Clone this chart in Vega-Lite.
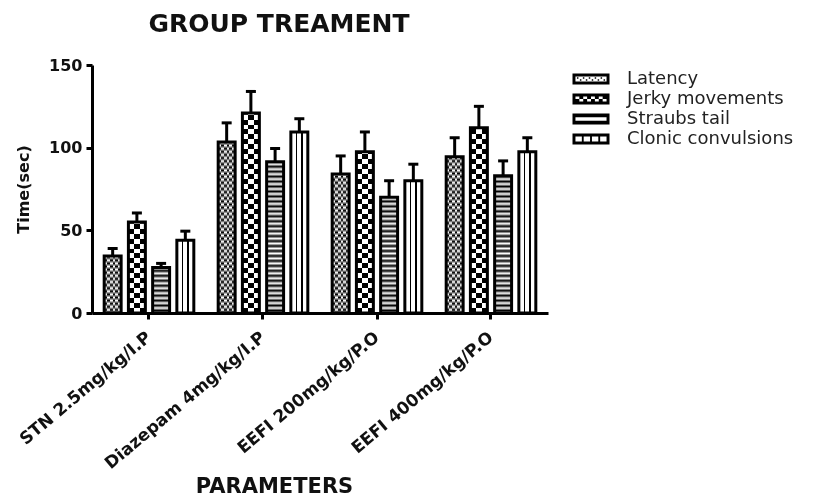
{
  "$schema": "https://vega.github.io/schema/vega-lite/v6.json",
  "width": 456,
  "height": 248,
  "autosize": {"type": "none"},
  "padding": {"left": 92, "top": 65, "right": 285, "bottom": 183},
  "background": "white",
  "title": {
    "text": "GROUP TREAMENT",
    "font": "DejaVu Sans",
    "fontSize": 25,
    "fontWeight": "bold",
    "color": "#111",
    "anchor": "middle",
    "frame": "group",
    "dx": -41,
    "offset": 20
  },
  "config": {
    "view": {"stroke": null},
    "axis": {
      "domainColor": "#000",
      "domainWidth": 3,
      "tickColor": "#000",
      "tickWidth": 3,
      "tickSize": 6,
      "labelFont": "DejaVu Sans",
      "labelFontSize": 16,
      "labelFontWeight": "bold",
      "labelColor": "#111",
      "labelLimit": 0,
      "titleFont": "DejaVu Sans",
      "titleFontWeight": "bold",
      "titleColor": "#111",
      "grid": false,
      "zindex": 1
    },
    "axisY": {
      "labelPadding": 4,
      "titleFontSize": 16,
      "titleX": -69,
      "titleY": 124,
      "titleAngle": -90,
      "titleAlign": "center",
      "titleBaseline": "middle"
    },
    "axisX": {
      "labelAngle": -40,
      "labelAlign": "right",
      "labelBaseline": "middle",
      "labelPadding": 16,
      "labelFontSize": 17,
      "titleFontSize": 21,
      "titleX": 182,
      "titleY": 179,
      "titleAlign": "center",
      "titleBaseline": "alphabetic"
    }
  },
  "data": {
    "values": [
      {"group": "STN 2.5mg/kg/I.P", "series": "Latency", "mean": 34.5, "upper": 39},
      {"group": "STN 2.5mg/kg/I.P", "series": "Jerky movements", "mean": 55, "upper": 60.5},
      {"group": "STN 2.5mg/kg/I.P", "series": "Straubs tail", "mean": 27.5, "upper": 30},
      {"group": "STN 2.5mg/kg/I.P", "series": "Clonic convulsions", "mean": 44, "upper": 49.5},
      {"group": "Diazepam 4mg/kg/I.P", "series": "Latency", "mean": 103.5, "upper": 115},
      {"group": "Diazepam 4mg/kg/I.P", "series": "Jerky movements", "mean": 121, "upper": 134},
      {"group": "Diazepam 4mg/kg/I.P", "series": "Straubs tail", "mean": 91.5, "upper": 99.5},
      {"group": "Diazepam 4mg/kg/I.P", "series": "Clonic convulsions", "mean": 109.5, "upper": 117.5},
      {"group": "EEFI 200mg/kg/P.O", "series": "Latency", "mean": 84, "upper": 95},
      {"group": "EEFI 200mg/kg/P.O", "series": "Jerky movements", "mean": 97.5, "upper": 109.5},
      {"group": "EEFI 200mg/kg/P.O", "series": "Straubs tail", "mean": 70, "upper": 80},
      {"group": "EEFI 200mg/kg/P.O", "series": "Clonic convulsions", "mean": 80, "upper": 90},
      {"group": "EEFI 400mg/kg/P.O", "series": "Latency", "mean": 94.5, "upper": 106},
      {"group": "EEFI 400mg/kg/P.O", "series": "Jerky movements", "mean": 112, "upper": 125},
      {"group": "EEFI 400mg/kg/P.O", "series": "Straubs tail", "mean": 83, "upper": 92},
      {"group": "EEFI 400mg/kg/P.O", "series": "Clonic convulsions", "mean": 97.5, "upper": 106}
    ]
  },
  "encoding": {
    "x": {
      "field": "group",
      "type": "nominal",
      "sort": null,
      "title": "PARAMETERS",
      "scale": {
        "domain": ["STN 2.5mg/kg/I.P", "Diazepam 4mg/kg/I.P", "EEFI 200mg/kg/P.O", "EEFI 400mg/kg/P.O"],
        "paddingInner": 0.15,
        "paddingOuter": 0.075
      }
    },
    "xOffset": {
      "field": "series",
      "type": "nominal",
      "sort": null,
      "scale": {
        "domain": ["Latency", "Jerky movements", "Straubs tail", "Clonic convulsions"],
        "paddingInner": 0.3,
        "paddingOuter": 0.15
      }
    }
  },
  "layer": [
    {
      "transform": [{"filter": "datum.series === 'Latency'"}],
      "mark": {"type": "bar", "fill": {"gradient": "linear", "x1": 0, "y1": 0, "x2": 1, "y2": 0, "stops": [
        {"offset": 0, "color": "#fff"}, {"offset": 0.167, "color": "#fff"},
        {"offset": 0.167, "color": "#000"}, {"offset": 0.333, "color": "#000"},
        {"offset": 0.333, "color": "#fff"}, {"offset": 0.5, "color": "#fff"},
        {"offset": 0.5, "color": "#000"}, {"offset": 0.667, "color": "#000"},
        {"offset": 0.667, "color": "#fff"}, {"offset": 0.833, "color": "#fff"},
        {"offset": 0.833, "color": "#000"}, {"offset": 1, "color": "#000"}
      ]}},
      "encoding": {
        "y": {"field": "mean", "type": "quantitative", "title": "Time(sec)", "scale": {"domain": [0, 150], "nice": false}, "axis": {"values": [0, 50, 100, 150]}}
      }
    },
    {
      "transform": [{"filter": "datum.series === 'Jerky movements'"}],
      "mark": {"type": "bar", "fill": {"gradient": "linear", "x1": 0, "y1": 0, "x2": 1, "y2": 0, "stops": [
        {"offset": 0, "color": "#fff"}, {"offset": 0.333, "color": "#fff"},
        {"offset": 0.333, "color": "#000"}, {"offset": 0.667, "color": "#000"},
        {"offset": 0.667, "color": "#fff"}, {"offset": 1, "color": "#fff"}
      ]}},
      "encoding": {
        "y": {"field": "mean", "type": "quantitative", "title": "Time(sec)", "axis": {"values": [0, 50, 100, 150]}}
      }
    },
    {
      "transform": [{"filter": "datum.series === 'Clonic convulsions'"}],
      "mark": {"type": "bar", "fill": {"gradient": "linear", "x1": 0, "y1": 0, "x2": 1, "y2": 0, "stops": [
        {"offset": 0, "color": "#fff"}, {"offset": 0.3, "color": "#fff"},
        {"offset": 0.3, "color": "#000"}, {"offset": 0.38, "color": "#000"},
        {"offset": 0.38, "color": "#fff"}, {"offset": 0.62, "color": "#fff"},
        {"offset": 0.62, "color": "#000"}, {"offset": 0.7, "color": "#000"},
        {"offset": 0.7, "color": "#fff"}, {"offset": 1, "color": "#fff"}
      ]}},
      "encoding": {
        "y": {"field": "mean", "type": "quantitative", "title": "Time(sec)", "axis": {"values": [0, 50, 100, 150]}}
      }
    },
    {
      "transform": [{"filter": "datum.series === 'Latency'"}],
      "mark": {"type": "bar", "blend": "difference", "fill": {"gradient": "linear", "x1": 0, "y1": 0, "x2": 0, "y2": 1, "stops": [
        {"offset": 0, "color": "#000"}, {"offset": 0.0125, "color": "#fff"}, {"offset": 0.025, "color": "#000"}, {"offset": 0.0375, "color": "#fff"},
        {"offset": 0.05, "color": "#000"}, {"offset": 0.0625, "color": "#fff"}, {"offset": 0.075, "color": "#000"}, {"offset": 0.0875, "color": "#fff"},
        {"offset": 0.1, "color": "#000"}, {"offset": 0.1125, "color": "#fff"}, {"offset": 0.125, "color": "#000"}, {"offset": 0.1375, "color": "#fff"},
        {"offset": 0.15, "color": "#000"}, {"offset": 0.1625, "color": "#fff"}, {"offset": 0.175, "color": "#000"}, {"offset": 0.1875, "color": "#fff"},
        {"offset": 0.2, "color": "#000"}, {"offset": 0.2125, "color": "#fff"}, {"offset": 0.225, "color": "#000"}, {"offset": 0.2375, "color": "#fff"},
        {"offset": 0.25, "color": "#000"}, {"offset": 0.2625, "color": "#fff"}, {"offset": 0.275, "color": "#000"}, {"offset": 0.2875, "color": "#fff"},
        {"offset": 0.3, "color": "#000"}, {"offset": 0.3125, "color": "#fff"}, {"offset": 0.325, "color": "#000"}, {"offset": 0.3375, "color": "#fff"},
        {"offset": 0.35, "color": "#000"}, {"offset": 0.3625, "color": "#fff"}, {"offset": 0.375, "color": "#000"}, {"offset": 0.3875, "color": "#fff"},
        {"offset": 0.4, "color": "#000"}, {"offset": 0.4125, "color": "#fff"}, {"offset": 0.425, "color": "#000"}, {"offset": 0.4375, "color": "#fff"},
        {"offset": 0.45, "color": "#000"}, {"offset": 0.4625, "color": "#fff"}, {"offset": 0.475, "color": "#000"}, {"offset": 0.4875, "color": "#fff"},
        {"offset": 0.5, "color": "#000"}, {"offset": 0.5125, "color": "#fff"}, {"offset": 0.525, "color": "#000"}, {"offset": 0.5375, "color": "#fff"},
        {"offset": 0.55, "color": "#000"}, {"offset": 0.5625, "color": "#fff"}, {"offset": 0.575, "color": "#000"}, {"offset": 0.5875, "color": "#fff"},
        {"offset": 0.6, "color": "#000"}, {"offset": 0.6125, "color": "#fff"}, {"offset": 0.625, "color": "#000"}, {"offset": 0.6375, "color": "#fff"},
        {"offset": 0.65, "color": "#000"}, {"offset": 0.6625, "color": "#fff"}, {"offset": 0.675, "color": "#000"}, {"offset": 0.6875, "color": "#fff"},
        {"offset": 0.7, "color": "#000"}, {"offset": 0.7125, "color": "#fff"}, {"offset": 0.725, "color": "#000"}, {"offset": 0.7375, "color": "#fff"},
        {"offset": 0.75, "color": "#000"}, {"offset": 0.7625, "color": "#fff"}, {"offset": 0.775, "color": "#000"}, {"offset": 0.7875, "color": "#fff"},
        {"offset": 0.8, "color": "#000"}, {"offset": 0.8125, "color": "#fff"}, {"offset": 0.825, "color": "#000"}, {"offset": 0.8375, "color": "#fff"},
        {"offset": 0.85, "color": "#000"}, {"offset": 0.8625, "color": "#fff"}, {"offset": 0.875, "color": "#000"}, {"offset": 0.8875, "color": "#fff"},
        {"offset": 0.9, "color": "#000"}, {"offset": 0.9125, "color": "#fff"}, {"offset": 0.925, "color": "#000"}, {"offset": 0.9375, "color": "#fff"},
        {"offset": 0.95, "color": "#000"}, {"offset": 0.9625, "color": "#fff"}, {"offset": 0.975, "color": "#000"}, {"offset": 0.9875, "color": "#fff"},
        {"offset": 1, "color": "#000"}
      ]}},
      "encoding": {
        "y": {"datum": 150, "type": "quantitative", "title": "Time(sec)", "axis": {"values": [0, 50, 100, 150]}}
      }
    },
    {
      "transform": [{"filter": "datum.series === 'Jerky movements'"}],
      "mark": {"type": "bar", "blend": "difference", "fill": {"gradient": "linear", "x1": 0, "y1": 0, "x2": 0, "y2": 1, "stops": [
        {"offset": 0, "color": "#000"}, {"offset": 0.02, "color": "#000"}, {"offset": 0.02, "color": "#fff"}, {"offset": 0.04, "color": "#fff"},
        {"offset": 0.04, "color": "#000"}, {"offset": 0.06, "color": "#000"}, {"offset": 0.06, "color": "#fff"}, {"offset": 0.08, "color": "#fff"},
        {"offset": 0.08, "color": "#000"}, {"offset": 0.1, "color": "#000"}, {"offset": 0.1, "color": "#fff"}, {"offset": 0.12, "color": "#fff"},
        {"offset": 0.12, "color": "#000"}, {"offset": 0.14, "color": "#000"}, {"offset": 0.14, "color": "#fff"}, {"offset": 0.16, "color": "#fff"},
        {"offset": 0.16, "color": "#000"}, {"offset": 0.18, "color": "#000"}, {"offset": 0.18, "color": "#fff"}, {"offset": 0.2, "color": "#fff"},
        {"offset": 0.2, "color": "#000"}, {"offset": 0.22, "color": "#000"}, {"offset": 0.22, "color": "#fff"}, {"offset": 0.24, "color": "#fff"},
        {"offset": 0.24, "color": "#000"}, {"offset": 0.26, "color": "#000"}, {"offset": 0.26, "color": "#fff"}, {"offset": 0.28, "color": "#fff"},
        {"offset": 0.28, "color": "#000"}, {"offset": 0.3, "color": "#000"}, {"offset": 0.3, "color": "#fff"}, {"offset": 0.32, "color": "#fff"},
        {"offset": 0.32, "color": "#000"}, {"offset": 0.34, "color": "#000"}, {"offset": 0.34, "color": "#fff"}, {"offset": 0.36, "color": "#fff"},
        {"offset": 0.36, "color": "#000"}, {"offset": 0.38, "color": "#000"}, {"offset": 0.38, "color": "#fff"}, {"offset": 0.4, "color": "#fff"},
        {"offset": 0.4, "color": "#000"}, {"offset": 0.42, "color": "#000"}, {"offset": 0.42, "color": "#fff"}, {"offset": 0.44, "color": "#fff"},
        {"offset": 0.44, "color": "#000"}, {"offset": 0.46, "color": "#000"}, {"offset": 0.46, "color": "#fff"}, {"offset": 0.48, "color": "#fff"},
        {"offset": 0.48, "color": "#000"}, {"offset": 0.5, "color": "#000"}, {"offset": 0.5, "color": "#fff"}, {"offset": 0.52, "color": "#fff"},
        {"offset": 0.52, "color": "#000"}, {"offset": 0.54, "color": "#000"}, {"offset": 0.54, "color": "#fff"}, {"offset": 0.56, "color": "#fff"},
        {"offset": 0.56, "color": "#000"}, {"offset": 0.58, "color": "#000"}, {"offset": 0.58, "color": "#fff"}, {"offset": 0.6, "color": "#fff"},
        {"offset": 0.6, "color": "#000"}, {"offset": 0.62, "color": "#000"}, {"offset": 0.62, "color": "#fff"}, {"offset": 0.64, "color": "#fff"},
        {"offset": 0.64, "color": "#000"}, {"offset": 0.66, "color": "#000"}, {"offset": 0.66, "color": "#fff"}, {"offset": 0.68, "color": "#fff"},
        {"offset": 0.68, "color": "#000"}, {"offset": 0.7, "color": "#000"}, {"offset": 0.7, "color": "#fff"}, {"offset": 0.72, "color": "#fff"},
        {"offset": 0.72, "color": "#000"}, {"offset": 0.74, "color": "#000"}, {"offset": 0.74, "color": "#fff"}, {"offset": 0.76, "color": "#fff"},
        {"offset": 0.76, "color": "#000"}, {"offset": 0.78, "color": "#000"}, {"offset": 0.78, "color": "#fff"}, {"offset": 0.8, "color": "#fff"},
        {"offset": 0.8, "color": "#000"}, {"offset": 0.82, "color": "#000"}, {"offset": 0.82, "color": "#fff"}, {"offset": 0.84, "color": "#fff"},
        {"offset": 0.84, "color": "#000"}, {"offset": 0.86, "color": "#000"}, {"offset": 0.86, "color": "#fff"}, {"offset": 0.88, "color": "#fff"},
        {"offset": 0.88, "color": "#000"}, {"offset": 0.9, "color": "#000"}, {"offset": 0.9, "color": "#fff"}, {"offset": 0.92, "color": "#fff"},
        {"offset": 0.92, "color": "#000"}, {"offset": 0.94, "color": "#000"}, {"offset": 0.94, "color": "#fff"}, {"offset": 0.96, "color": "#fff"},
        {"offset": 0.96, "color": "#000"}, {"offset": 0.98, "color": "#000"}, {"offset": 0.98, "color": "#fff"}, {"offset": 1, "color": "#fff"}
      ]}},
      "encoding": {
        "y": {"datum": 150, "type": "quantitative", "title": "Time(sec)", "axis": {"values": [0, 50, 100, 150]}}
      }
    },
    {
      "transform": [{"filter": "datum.series === 'Straubs tail'"}],
      "mark": {"type": "bar", "blend": "difference", "fill": {"gradient": "linear", "x1": 0, "y1": 0, "x2": 0, "y2": 1, "stops": [
        {"offset": 0, "color": "#000"}, {"offset": 0.01, "color": "#fff"}, {"offset": 0.02, "color": "#000"}, {"offset": 0.03, "color": "#fff"},
        {"offset": 0.04, "color": "#000"}, {"offset": 0.05, "color": "#fff"}, {"offset": 0.06, "color": "#000"}, {"offset": 0.07, "color": "#fff"},
        {"offset": 0.08, "color": "#000"}, {"offset": 0.09, "color": "#fff"}, {"offset": 0.1, "color": "#000"}, {"offset": 0.11, "color": "#fff"},
        {"offset": 0.12, "color": "#000"}, {"offset": 0.13, "color": "#fff"}, {"offset": 0.14, "color": "#000"}, {"offset": 0.15, "color": "#fff"},
        {"offset": 0.16, "color": "#000"}, {"offset": 0.17, "color": "#fff"}, {"offset": 0.18, "color": "#000"}, {"offset": 0.19, "color": "#fff"},
        {"offset": 0.2, "color": "#000"}, {"offset": 0.21, "color": "#fff"}, {"offset": 0.22, "color": "#000"}, {"offset": 0.23, "color": "#fff"},
        {"offset": 0.24, "color": "#000"}, {"offset": 0.25, "color": "#fff"}, {"offset": 0.26, "color": "#000"}, {"offset": 0.27, "color": "#fff"},
        {"offset": 0.28, "color": "#000"}, {"offset": 0.29, "color": "#fff"}, {"offset": 0.3, "color": "#000"}, {"offset": 0.31, "color": "#fff"},
        {"offset": 0.32, "color": "#000"}, {"offset": 0.33, "color": "#fff"}, {"offset": 0.34, "color": "#000"}, {"offset": 0.35, "color": "#fff"},
        {"offset": 0.36, "color": "#000"}, {"offset": 0.37, "color": "#fff"}, {"offset": 0.38, "color": "#000"}, {"offset": 0.39, "color": "#fff"},
        {"offset": 0.4, "color": "#000"}, {"offset": 0.41, "color": "#fff"}, {"offset": 0.42, "color": "#000"}, {"offset": 0.43, "color": "#fff"},
        {"offset": 0.44, "color": "#000"}, {"offset": 0.45, "color": "#fff"}, {"offset": 0.46, "color": "#000"}, {"offset": 0.47, "color": "#fff"},
        {"offset": 0.48, "color": "#000"}, {"offset": 0.49, "color": "#fff"}, {"offset": 0.5, "color": "#000"}, {"offset": 0.51, "color": "#fff"},
        {"offset": 0.52, "color": "#000"}, {"offset": 0.53, "color": "#fff"}, {"offset": 0.54, "color": "#000"}, {"offset": 0.55, "color": "#fff"},
        {"offset": 0.56, "color": "#000"}, {"offset": 0.57, "color": "#fff"}, {"offset": 0.58, "color": "#000"}, {"offset": 0.59, "color": "#fff"},
        {"offset": 0.6, "color": "#000"}, {"offset": 0.61, "color": "#fff"}, {"offset": 0.62, "color": "#000"}, {"offset": 0.63, "color": "#fff"},
        {"offset": 0.64, "color": "#000"}, {"offset": 0.65, "color": "#fff"}, {"offset": 0.66, "color": "#000"}, {"offset": 0.67, "color": "#fff"},
        {"offset": 0.68, "color": "#000"}, {"offset": 0.69, "color": "#fff"}, {"offset": 0.7, "color": "#000"}, {"offset": 0.71, "color": "#fff"},
        {"offset": 0.72, "color": "#000"}, {"offset": 0.73, "color": "#fff"}, {"offset": 0.74, "color": "#000"}, {"offset": 0.75, "color": "#fff"},
        {"offset": 0.76, "color": "#000"}, {"offset": 0.77, "color": "#fff"}, {"offset": 0.78, "color": "#000"}, {"offset": 0.79, "color": "#fff"},
        {"offset": 0.8, "color": "#000"}, {"offset": 0.81, "color": "#fff"}, {"offset": 0.82, "color": "#000"}, {"offset": 0.83, "color": "#fff"},
        {"offset": 0.84, "color": "#000"}, {"offset": 0.85, "color": "#fff"}, {"offset": 0.86, "color": "#000"}, {"offset": 0.87, "color": "#fff"},
        {"offset": 0.88, "color": "#000"}, {"offset": 0.89, "color": "#fff"}, {"offset": 0.9, "color": "#000"}, {"offset": 0.91, "color": "#fff"},
        {"offset": 0.92, "color": "#000"}, {"offset": 0.93, "color": "#fff"}, {"offset": 0.94, "color": "#000"}, {"offset": 0.95, "color": "#fff"},
        {"offset": 0.96, "color": "#000"}, {"offset": 0.97, "color": "#fff"}, {"offset": 0.98, "color": "#000"}, {"offset": 0.99, "color": "#fff"},
        {"offset": 1, "color": "#000"}
      ]}},
      "encoding": {
        "y": {"datum": 150, "type": "quantitative", "title": "Time(sec)", "axis": {"values": [0, 50, 100, 150]}}
      }
    },
    {
      "transform": [{"filter": "datum.series !== 'Clonic convulsions'"}],
      "mark": {"type": "bar", "fill": "#ffffff", "stroke": "#ffffff", "strokeWidth": 2.5},
      "encoding": {
        "y": {"field": "mean", "type": "quantitative", "title": "Time(sec)", "axis": {"values": [0, 50, 100, 150]}},
        "y2": {"datum": 150}
      }
    },
    {
      "mark": {"type": "bar", "fill": "transparent", "stroke": "#000", "strokeWidth": 3, "strokeJoin": "miter"},
      "encoding": {
        "y": {"field": "mean", "type": "quantitative", "title": "Time(sec)", "axis": {"values": [0, 50, 100, 150]}}
      }
    },
    {
      "mark": {"type": "rule", "color": "#000", "strokeWidth": 3},
      "encoding": {
        "y": {"field": "mean", "type": "quantitative", "title": "Time(sec)", "axis": {"values": [0, 50, 100, 150]}},
        "y2": {"field": "upper"}
      }
    },
    {
      "mark": {"type": "tick", "color": "#000", "size": 10, "thickness": 3, "opacity": 1},
      "encoding": {
        "y": {"field": "upper", "type": "quantitative", "title": "Time(sec)", "axis": {"values": [0, 50, 100, 150]}}
      }
    },
    {
      "mark": {"type": "point", "filled": true, "color": "#000", "opacity": 0},
      "encoding": {
        "y": {"field": "mean", "type": "quantitative", "title": "Time(sec)", "axis": {"values": [0, 50, 100, 150]}},
        "shape": {
          "field": "series",
          "type": "nominal",
          "sort": null,
          "scale": {
            "domain": ["Latency", "Jerky movements", "Straubs tail", "Clonic convulsions"],
            "range": [
              "M-1.85,-0.555H1.85V0.555H-1.85Z M-1.554,-0.259V0.259H1.554V-0.259Z M-1.406,-0.185H-1.258V-0.037H-1.406Z M-0.814,-0.185H-0.666V-0.037H-0.814Z M-0.222,-0.185H-0.074V-0.037H-0.222Z M0.37,-0.185H0.518V-0.037H0.37Z M0.962,-0.185H1.11V-0.037H0.962Z M-1.11,0.037H-0.962V0.185H-1.11Z M-0.518,0.037H-0.37V0.185H-0.518Z M0.074,0.037H0.222V0.185H0.074Z M0.666,0.037H0.814V0.185H0.666Z M1.258,0.037H1.406V0.185H1.258Z",
              "M-1.85,-0.555H1.85V0.555H-1.85Z M-1.554,-0.259V0H-1.166V-0.259Z M-0.777,-0.259V0H-0.389V-0.259Z M0,-0.259V0H0.389V-0.259Z M0.777,-0.259V0H1.166V-0.259Z M-1.166,0V0.259H-0.777V0Z M-0.389,0V0.259H0V0Z M0.389,0V0.259H0.777V0Z M1.166,0V0.259H1.554V0Z",
              "M-1.85,-0.555H1.85V0.555H-1.85Z M-1.554,-0.167V0.167H1.554V-0.167Z",
              "M-1.85,-0.555H1.85V0.555H-1.85Z M-1.554,-0.259V0.259H-0.916V-0.259Z M-0.731,-0.259V0.259H-0.093V-0.259Z M0.093,-0.259V0.259H0.731V-0.259Z M0.916,-0.259V0.259H1.554V-0.259Z"
            ]
          },
          "legend": {
            "title": null,
            "orient": "none",
            "legendX": 489,
            "legendY": 4,
            "padding": 0,
            "symbolSize": 400,
            "symbolFillColor": "#000",
            "symbolStrokeWidth": 0,
            "symbolOpacity": 1,
            "labelFont": "DejaVu Sans",
            "labelFontSize": 18,
            "labelColor": "#222",
            "labelLimit": 0,
            "labelOffset": 26,
            "rowPadding": 1
          }
        }
      }
    }
  ]
}
